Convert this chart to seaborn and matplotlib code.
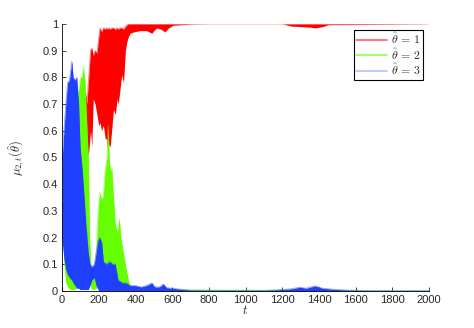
import matplotlib

matplotlib.use("Agg")
import matplotlib.pyplot as plt
import pandas as pd
import seaborn as sns
from matplotlib.lines import Line2D
from matplotlib.ticker import FuncFormatter

# envelopes (min / max of the oscillating posterior)
red_t = [0, 20, 60, 100, 120, 125, 135, 145, 155, 162, 170, 180, 190, 200, 207,
         215, 225, 235, 243, 250, 255, 262, 270, 280, 290, 300, 306, 315, 325,
         335, 345, 352, 360, 370, 390, 425, 460, 489, 500, 515, 540, 561, 580,
         606, 650, 700, 800, 1200, 1250, 1300, 1350, 1380, 1420, 1450, 2000]
red_hi = [0.33, 0.3, 0.15, 0.3, 0.6, 0.76, 0.7, 0.8, 0.9, 0.91, 0.88, 0.9, 0.89,
          0.95, 0.985, 0.97, 0.985, 0.98, 0.985, 0.98, 0.985, 0.98, 0.985, 0.985,
          0.98, 0.985, 0.98, 0.985, 0.985, 0.98, 0.99, 0.995, 1.0, 1.0, 1.0, 1.0,
          1.0, 1.0, 1.0, 1.0, 1.0, 1.0, 1.0, 1.0, 1.0, 1.0, 1.0, 1.0, 1.0, 1.0,
          1.0, 1.0, 1.0, 1.0, 1.0]
red_lo = [0.2, 0.15, 0.05, 0.1, 0.5, 0.46, 0.5, 0.52, 0.6, 0.54, 0.72, 0.7, 0.66,
          0.62, 0.63, 0.6, 0.62, 0.57, 0.57, 0.5, 0.55, 0.54, 0.6, 0.68, 0.66,
          0.72, 0.7, 0.75, 0.81, 0.78, 0.9, 0.93, 0.95, 0.965, 0.97, 0.975, 0.975,
          0.965, 0.975, 0.985, 0.98, 0.97, 0.985, 0.995, 0.997, 0.999, 1.0, 1.0,
          0.992, 0.99, 0.988, 0.985, 0.99, 0.997, 1.0]

green_t = [0, 10, 20, 35, 50, 65, 80, 90, 100, 110, 116, 125, 135, 143, 150, 158,
           165, 175, 182, 189, 196, 205, 216, 225, 234, 245, 251, 258, 265, 271,
           280, 290, 300, 312, 320, 335, 352, 365, 380, 2000]
green_hi = [0.47, 0.4, 0.3, 0.25, 0.3, 0.5, 0.7, 0.75, 0.8, 0.8, 0.84, 0.78, 0.62,
            0.5, 0.2, 0.08, 0.06, 0.05, 0.1, 0.19, 0.3, 0.37, 0.34, 0.36, 0.45,
            0.5, 0.62, 0.48, 0.45, 0.46, 0.35, 0.25, 0.22, 0.27, 0.2, 0.14, 0.07,
            0.03, 0.005, 0.0]
green_lo = [0.25, 0.1, 0.03, 0.01, 0.005, 0.005, 0.01, 0.03, 0.05, 0.1, 0.2, 0.3,
            0.2, 0.1, 0.03, 0.01, 0.005, 0.005, 0.01, 0.01, 0.02, 0.02, 0.02, 0.03,
            0.03, 0.03, 0.03, 0.02, 0.02, 0.02, 0.02, 0.02, 0.01, 0.01, 0.01, 0.005,
            0.002, 0.0, 0.0, 0.0]

blue_t = [0, 10, 20, 30, 40, 53, 60, 70, 80, 90, 98, 110, 120, 130, 143, 152, 162,
          175, 185, 196, 206, 216, 225, 240, 260, 275, 290, 305, 330, 350, 370, 400,
          430, 460, 489, 505, 530, 552, 570, 600, 650, 700, 800, 1100, 1170, 1250,
          1297, 1330, 1379, 1420, 1480, 1560, 1700, 2000]
blue_hi = [0.49, 0.6, 0.7, 0.78, 0.79, 0.86, 0.8, 0.79, 0.8, 0.7, 0.54, 0.45, 0.35,
           0.25, 0.14, 0.1, 0.09, 0.1, 0.14, 0.19, 0.2, 0.18, 0.11, 0.1, 0.11, 0.1,
           0.1, 0.04, 0.03, 0.03, 0.02, 0.02, 0.015, 0.02, 0.03, 0.015, 0.015, 0.026,
           0.012, 0.01, 0.006, 0.003, 0.002, 0.002, 0.004, 0.008, 0.014, 0.01, 0.019,
           0.01, 0.006, 0.003, 0.001, 0.001]
blue_lo = [0.19, 0.12, 0.08, 0.06, 0.05, 0.04, 0.03, 0.02, 0.01, 0.01, 0.005, 0.005,
           0.005, 0.005, 0.005, 0.02, 0.04, 0.05, 0.02, 0.005, 0.0, 0.0, 0.0, 0.0,
           0.0, 0.0, 0.0, 0.0, 0.0, 0.0, 0.0, 0.0, 0.0, 0.0, 0.0, 0.0, 0.0, 0.0, 0.0,
           0.0, 0.0, 0.0, 0.0, 0.0, 0.0, 0.0, 0.0, 0.0, 0.0, 0.0, 0.0, 0.0, 0.0, 0.0]

labels = [r"$\hat{\theta}\,=\,1$", r"$\hat{\theta}\,=\,2$", r"$\hat{\theta}\,=\,3$"]
colors = ["#ff0000", "#66ff00", "#2040ff"]
legend_colors = ["#ff5a5a", "#8cff50", "#b4c0ff"]

sns.set_style("ticks")
plt.rcParams["font.family"] = ["Liberation Sans", "DejaVu Sans"]
plt.rcParams["mathtext.fontset"] = "cm"

fig = plt.figure(figsize=(4.74, 3.28), dpi=100)
ax = fig.add_axes([0.131, 0.113, 0.774, 0.814])

series = [(red_t, red_lo, red_hi), (green_t, green_lo, green_hi), (blue_t, blue_lo, blue_hi)]
for i, ((t, lo, hi), color) in enumerate(zip(series, colors)):
    df = pd.DataFrame({"t": t, "lo": lo, "hi": hi})
    ax.fill_between(df["t"], df["lo"], df["hi"], color=color, linewidth=0, zorder=1 + i)
    sns.lineplot(data=df, x="t", y="hi", color=color, linewidth=0.6, alpha=0.5,
                 zorder=1.5 + i, ax=ax)

ax.set_xlim(0, 2000)
ax.set_ylim(0, 1)
ax.set_xticks(range(0, 2001, 200))
ax.set_yticks([i / 10 for i in range(11)])
ax.yaxis.set_major_formatter(FuncFormatter(lambda v, p: f"{v:g}"))
ax.tick_params(direction="in", length=3, width=0.6, labelsize=8, pad=3)
sns.despine(ax=ax)
for s in ["left", "bottom"]:
    ax.spines[s].set_linewidth(0.6)
    ax.spines[s].set_color("black")
    ax.spines[s].set_zorder(10)

ax.set_xlabel(r"$t$", fontsize=9, labelpad=-1)
ax.set_ylabel(r"$\mu_{2,t}(\hat{\theta})$", fontsize=9, labelpad=11)

handles = [Line2D([], [], color=c, linewidth=1.2) for c in legend_colors]
leg = ax.legend(handles, labels, loc="upper right", bbox_to_anchor=(0.985, 0.978),
                fontsize=8.5, handlelength=2.6, labelspacing=0.0, borderpad=0.2,
                handletextpad=0.4, borderaxespad=0, fancybox=False, framealpha=1)
leg.get_frame().set_edgecolor("black")
leg.get_frame().set_linewidth(0.8)
leg.set_zorder(20)

fig.savefig("out.png", dpi=100)
plt.close(fig)
